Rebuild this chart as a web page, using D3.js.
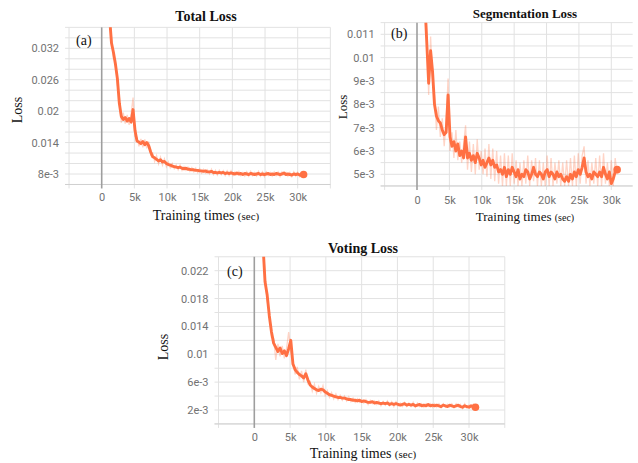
<!DOCTYPE html>
<html>
<head>
<meta charset="utf-8">
<script src="https://cdn.jsdelivr.net/npm/d3@7"></script>
<style>
html, body { margin: 0; padding: 0; background: #fff; }
svg { display: block; }
</style>
</head>
<body>
<svg id="chart" width="638" height="463"></svg>
<script>
// training time of each logged point (sec)
var steps = [
  1200,1500,1800,2100,2400,2700,3000,3300,3600,3900,
  4200,4500,4800,5100,5400,5700,6000,6300,6600,6900,
  7200,7500,7800,8100,8400,8700,9000,9300,9600,9900,
  10200,10500,10800,11100,11400,11700,12000,12300,12600,12900,
  13200,13500,13800,14100,14400,14700,15000,15300,15600,15900,
  16200,16500,16800,17100,17400,17700,18000,18300,18600,18900,
  19200,19500,19800,20100,20400,20700,21000,21300,21600,21900,
  22200,22500,22800,23100,23400,23700,24000,24300,24600,24900,
  25200,25500,25800,26100,26400,26700,27000,27300,27600,27900,
  28200,28500,28800,29100,29400,29700,30000,30300,30600,30900
];

var totalSmooth = [
  0.0380,0.0330,0.0312,0.0290,0.0262,0.0215,0.0190,0.0184,0.0188,0.0181,
  0.0186,0.0179,0.0203,0.0163,0.0143,0.0141,0.0138,0.0142,0.0136,0.0140,
  0.0134,0.0122,0.0113,0.0111,0.0108,0.0105,0.0107,0.0103,0.0104,0.0100,
  0.0098,0.0097,0.0095,0.0094,0.0093,0.0092,0.0093,0.0091,0.0090,0.0091,
  0.0089,0.0089,0.0088,0.0088,0.0087,0.0087,0.0086,0.0086,0.0085,0.0086,
  0.0084,0.0084,0.0085,0.0083,0.0083,0.0082,0.0083,0.0082,0.0083,0.0081,
  0.0082,0.0081,0.0082,0.0081,0.0080,0.0082,0.0080,0.0081,0.0079,0.0081,
  0.0080,0.0079,0.0081,0.0080,0.0079,0.0080,0.0081,0.0079,0.0080,0.0079,
  0.0080,0.0081,0.0079,0.0080,0.0079,0.0081,0.0080,0.0079,0.0080,0.0082,
  0.0079,0.0080,0.0079,0.0078,0.0080,0.0079,0.0080,0.0078,0.0079,0.0079
];
var totalRaw = [
  0.0395,0.0342,0.0300,0.0298,0.0250,0.0228,0.0178,0.0197,0.0176,0.0193,
  0.0174,0.0195,0.0226,0.0152,0.0150,0.0133,0.0147,0.0131,0.0146,0.0129,
  0.0142,0.0116,0.0120,0.0104,0.0115,0.0099,0.0112,0.0097,0.0109,0.0094,
  0.0103,0.0092,0.0100,0.0090,0.0097,0.0088,0.0097,0.0087,0.0094,0.0087,
  0.0093,0.0085,0.0092,0.0084,0.0091,0.0083,0.0090,0.0082,0.0089,0.0082,
  0.0088,0.0080,0.0089,0.0079,0.0087,0.0078,0.0087,0.0079,0.0086,0.0077,
  0.0086,0.0077,0.0086,0.0077,0.0084,0.0078,0.0085,0.0077,0.0083,0.0076,
  0.0084,0.0076,0.0085,0.0077,0.0083,0.0076,0.0085,0.0076,0.0084,0.0075,
  0.0084,0.0077,0.0083,0.0076,0.0084,0.0077,0.0084,0.0075,0.0084,0.0078,
  0.0083,0.0076,0.0083,0.0075,0.0084,0.0076,0.0083,0.0075,0.0082,0.0077
];

var segSmooth = [
  0.0125,0.0107,0.0089,0.0103,0.0094,0.0080,0.0075,0.0073,0.0072,0.0069,
  0.0067,0.0068,0.0084,0.0066,0.0062,0.0064,0.0060,0.0063,0.0058,0.0060,
  0.0057,0.0066,0.0057,0.0059,0.0056,0.0058,0.0055,0.0059,0.0057,0.0054,
  0.0056,0.0053,0.0055,0.0057,0.0054,0.0056,0.0053,0.0054,0.0051,0.0052,
  0.0050,0.0053,0.0049,0.0052,0.0050,0.0053,0.0051,0.0049,0.0052,0.0048,
  0.0050,0.0049,0.0052,0.0051,0.0048,0.0050,0.0053,0.0050,0.0049,0.0051,
  0.0050,0.0048,0.0051,0.0052,0.0049,0.0051,0.0050,0.0048,0.0051,0.0049,
  0.0050,0.0048,0.0047,0.0049,0.0047,0.0050,0.0048,0.0051,0.0049,0.0052,
  0.0050,0.0053,0.0057,0.0051,0.0049,0.0050,0.0048,0.0051,0.0050,0.0049,
  0.0051,0.0049,0.0053,0.0050,0.0048,0.0051,0.0046,0.0048,0.0051,0.0052
];
var segRaw = [
  0.0128,0.0112,0.0084,0.0109,0.0090,0.0084,0.0069,0.0079,0.0066,0.0074,
  0.0062,0.0073,0.0091,0.0060,0.0068,0.0057,0.0069,0.0056,0.0064,0.0055,
  0.0063,0.0071,0.0052,0.0064,0.0051,0.0063,0.0050,0.0065,0.0052,0.0060,
  0.0050,0.0061,0.0049,0.0063,0.0048,0.0061,0.0047,0.0060,0.0046,0.0058,
  0.0045,0.0059,0.0045,0.0058,0.0045,0.0059,0.0046,0.0056,0.0045,0.0055,
  0.0045,0.0056,0.0046,0.0058,0.0045,0.0056,0.0047,0.0057,0.0045,0.0056,
  0.0045,0.0055,0.0045,0.0058,0.0045,0.0057,0.0045,0.0055,0.0046,0.0056,
  0.0045,0.0055,0.0045,0.0056,0.0045,0.0057,0.0045,0.0058,0.0045,0.0059,
  0.0046,0.0058,0.0062,0.0046,0.0056,0.0045,0.0055,0.0046,0.0057,0.0045,
  0.0058,0.0045,0.0059,0.0046,0.0055,0.0045,0.0056,0.0045,0.0057,0.0050
];

var voteSmooth = [
  0.0260,0.0204,0.0185,0.0155,0.0132,0.0116,0.0110,0.0104,0.0109,0.0101,
  0.0105,0.0098,0.0108,0.0120,0.0086,0.0078,0.0074,0.0071,0.0069,0.0066,
  0.0072,0.0063,0.0056,0.0053,0.0051,0.0049,0.0048,0.0050,0.0049,0.0046,
  0.0044,0.0042,0.0041,0.0040,0.0039,0.0038,0.0038,0.0037,0.0037,0.0036,
  0.0035,0.0035,0.0034,0.0034,0.0033,0.0034,0.0032,0.0033,0.0032,0.0031,
  0.0031,0.0032,0.0030,0.0031,0.0030,0.0029,0.0030,0.0029,0.0030,0.0028,
  0.0029,0.0028,0.0029,0.0028,0.0027,0.0028,0.0029,0.0027,0.0028,0.0027,
  0.0028,0.0026,0.0027,0.0028,0.0026,0.0027,0.0026,0.0028,0.0026,0.0027,
  0.0026,0.0027,0.0026,0.0025,0.0027,0.0026,0.0025,0.0027,0.0026,0.0025,
  0.0026,0.0027,0.0025,0.0024,0.0026,0.0025,0.0024,0.0026,0.0025,0.0024
];
var voteRaw = [
  0.0270,0.0213,0.0176,0.0162,0.0124,0.0123,0.0092,0.0115,0.0097,0.0112,
  0.0094,0.0108,0.0132,0.0103,0.0091,0.0071,0.0082,0.0064,0.0076,0.0060,
  0.0078,0.0058,0.0061,0.0047,0.0057,0.0044,0.0054,0.0045,0.0055,0.0041,
  0.0048,0.0038,0.0045,0.0036,0.0043,0.0035,0.0041,0.0034,0.0040,0.0033,
  0.0039,0.0032,0.0037,0.0031,0.0036,0.0031,0.0035,0.0030,0.0035,0.0028,
  0.0034,0.0029,0.0033,0.0028,0.0033,0.0026,0.0032,0.0027,0.0033,0.0026,
  0.0032,0.0025,0.0032,0.0026,0.0030,0.0025,0.0031,0.0025,0.0030,0.0025,
  0.0031,0.0024,0.0030,0.0025,0.0029,0.0024,0.0029,0.0025,0.0029,0.0024,
  0.0029,0.0024,0.0029,0.0023,0.0029,0.0024,0.0028,0.0024,0.0029,0.0023,
  0.0029,0.0024,0.0028,0.0022,0.0029,0.0023,0.0027,0.0023,0.0028,0.0022
];

var xTicks = [0, 5000, 10000, 15000, 20000, 25000, 30000];
var xTickLabels = ["0", "5k", "10k", "15k", "20k", "25k", "30k"];
var xGrid = [-5000, 5000, 10000, 15000, 20000, 25000, 30000, 35000];

var totalYTicks = [0.008, 0.014, 0.02, 0.026, 0.032];
var totalYLabels = ["8e-3", "0.014", "0.02", "0.026", "0.032"];
var segYTicks = [0.005, 0.006, 0.007, 0.008, 0.009, 0.01, 0.011];
var segYLabels = ["5e-3", "6e-3", "7e-3", "8e-3", "9e-3", "0.01", "0.011"];
var voteYTicks = [0.002, 0.006, 0.01, 0.014, 0.018, 0.022];
var voteYLabels = ["2e-3", "6e-3", "0.01", "0.014", "0.018", "0.022"];

var orange = "#ff7043";
var serif = "'Liberation Serif', 'Times New Roman', serif";
var sans = "Roboto, 'Noto Sans', sans-serif";

var svg = d3.select("#chart");

var panels = [
  {id: "a", title: "Total Loss", tag: "(a)", smooth: totalSmooth, raw: totalRaw,
   yTicks: totalYTicks, yLabels: totalYLabels, minor: 0.002,
   xRange: [101.7, 297.7], yAnchor: [0.008, 0.032], yRange: [174, 48.3],
   yBox: [0.006, 0.036], xEnd: 35000,
   titleX: 206, titleY: 21, titleSize: 14,
   lossX: 17, lossY: 110, lossSize: 14,
   xlabX: 206, xlabY: 220, xlabSize: 14,
   tagX: 76, tagY: 45, tickY: 202},
  {id: "b", title: "Segmentation Loss", tag: "(b)", smooth: segSmooth, raw: segRaw,
   yTicks: segYTicks, yLabels: segYLabels, minor: 0.0005,
   xRange: [417, 611.3], yAnchor: [0.005, 0.011], yRange: [174.3, 34.3],
   yBox: [0.0045, 0.0115], xEnd: 33300,
   titleX: 525, titleY: 18, titleSize: 13,
   lossX: 342, lossY: 107, lossSize: 13,
   xlabX: 525, xlabY: 221, xlabSize: 13,
   tagX: 391, tagY: 38, tickY: 205},
  {id: "c", title: "Voting Loss", tag: "(c)", smooth: voteSmooth, raw: voteRaw,
   yTicks: voteYTicks, yLabels: voteYLabels, minor: 0.002,
   xRange: [254.3, 469], yAnchor: [0.002, 0.022], yRange: [410, 270.7],
   yBox: [0, 0.024], xEnd: 35000,
   titleX: 363, titleY: 253, titleSize: 14,
   lossX: 163, lossY: 347, lossSize: 14,
   xlabX: 363, xlabY: 458, xlabSize: 14,
   tagX: 227, tagY: 276, tickY: 442}
];

panels.forEach(function(p) {
  var x = d3.scaleLinear().domain([0, 30000]).range(p.xRange);
  var y = d3.scaleLinear().domain(p.yAnchor).range(p.yRange);
  var left = x(-5000), right = x(p.xEnd);
  var top = y(p.yBox[1]), bottom = y(p.yBox[0]);
  var g = svg.append("g");

  // horizontal grid (major + minor)
  var kLo = Math.round(p.yBox[0] / p.minor), kHi = Math.round(p.yBox[1] / p.minor);
  var hVals = d3.range(kLo, kHi + 1).map(function(k) { return k * p.minor; });
  g.selectAll(".hg").data(hVals).enter().append("line")
    .attr("x1", left - 4).attr("x2", right)
    .attr("y1", function(d) { return y(d); }).attr("y2", function(d) { return y(d); })
    .attr("stroke", "#e2e2e2").attr("stroke-width", 1);

  // vertical grid
  g.selectAll(".vg").data(xGrid.filter(function(d) { return d <= p.xEnd; })).enter().append("line")
    .attr("x1", function(d) { return x(d); }).attr("x2", function(d) { return x(d); })
    .attr("y1", top).attr("y2", bottom + 4)
    .attr("stroke", "#e2e2e2").attr("stroke-width", 1);

  // bottom axis line
  g.append("line").attr("x1", left - 4).attr("x2", right)
    .attr("y1", bottom).attr("y2", bottom)
    .attr("stroke", "#cfcfcf").attr("stroke-width", 1);

  // zero line
  g.append("line").attr("x1", x(0)).attr("x2", x(0))
    .attr("y1", top).attr("y2", bottom + 4)
    .attr("stroke", "#9e9e9e").attr("stroke-width", 1.6);

  // y tick labels
  var ya = g.append("g").attr("transform", "translate(" + left + ",0)")
    .call(d3.axisLeft(y).tickValues(p.yTicks)
      .tickFormat(function(d, i) { return p.yLabels[i]; })
      .tickSize(0).tickPadding(10));
  ya.select(".domain").remove();
  ya.selectAll("text").attr("font-family", sans).attr("font-size", 11).attr("fill", "#727272");

  // x tick labels
  var xa = g.append("g").attr("transform", "translate(0," + (p.tickY - 9) + ")")
    .call(d3.axisBottom(x).tickValues(xTicks)
      .tickFormat(function(d, i) { return xTickLabels[i]; })
      .tickSize(0).tickPadding(0));
  xa.select(".domain").remove();
  xa.selectAll("text").attr("font-family", sans).attr("font-size", 11).attr("fill", "#727272")
    .attr("dy", "0.71em").attr("y", 0);

  // lines
  g.append("clipPath").attr("id", "clip-" + p.id).append("rect")
    .attr("x", left).attr("y", top).attr("width", right - left).attr("height", bottom - top);

  var line = d3.line()
    .x(function(d, i) { return x(steps[i]); })
    .y(function(d) { return y(d); });

  var plot = g.append("g").attr("clip-path", "url(#clip-" + p.id + ")");
  plot.append("path").datum(p.raw).attr("d", line)
    .attr("fill", "none").attr("stroke", orange).attr("stroke-opacity", 0.3).attr("stroke-width", 1.3);
  plot.append("path").datum(p.smooth).attr("d", line)
    .attr("fill", "none").attr("stroke", orange).attr("stroke-width", 2.9)
    .attr("stroke-linejoin", "round");
  var n = steps.length - 1;
  plot.append("circle").attr("cx", x(steps[n])).attr("cy", y(p.smooth[n])).attr("r", 3.8)
    .attr("fill", orange);

  // texts
  g.append("text").attr("x", p.titleX).attr("y", p.titleY).attr("text-anchor", "middle")
    .attr("font-family", serif).attr("font-weight", "bold").attr("font-size", p.titleSize)
    .attr("fill", "#111").text(p.title);
  g.append("text").attr("transform", "translate(" + p.lossX + "," + p.lossY + ") rotate(-90)")
    .attr("text-anchor", "middle").attr("dy", "0.35em")
    .attr("font-family", serif).attr("font-size", p.lossSize).attr("fill", "#111").text("Loss");
  var xl = g.append("text").attr("x", p.xlabX).attr("y", p.xlabY).attr("text-anchor", "middle")
    .attr("font-family", serif).attr("font-size", p.xlabSize).attr("fill", "#111");
  xl.append("tspan").text("Training times ");
  xl.append("tspan").attr("font-size", p.xlabSize - 3).text("(sec)");
  g.append("text").attr("x", p.tagX).attr("y", p.tagY)
    .attr("font-family", serif).attr("font-size", 14).attr("fill", "#111").text(p.tag);
});
</script>
</body>
</html>
